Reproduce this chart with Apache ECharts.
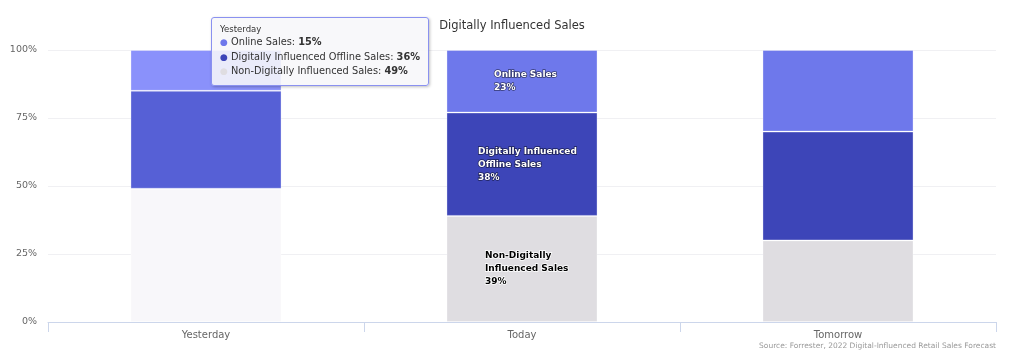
<!DOCTYPE html>
<html>
<head>
<meta charset="utf-8">
<script src="https://cdn.jsdelivr.net/npm/echarts@6/dist/echarts.min.js"></script>
<style>
html,body{margin:0;padding:0;background:#fff;}
#chart{width:1024px;height:360px;}
</style>
</head>
<body>
<div id="chart"></div>
<script>
var categories = ['Yesterday', 'Today', 'Tomorrow'];
var seriesNames = ['Online Sales', 'Digitally Influenced Offline Sales', 'Non-Digitally Influenced Sales'];
var onlineSales = [15, 23, 30];
var offlineSales = [36, 38, 40];
var nonDigitalSales = [49, 39, 30];
var yTicks = [0, 25, 50, 75, 100];

var FONT = '"DejaVu Sans", "Liberation Sans", sans-serif';
var baseColors = ['#6e78eb', '#3d45b8', '#dfdde1'];
var hoverColors = ['#8a91fb', '#5660d6', '#f8f7fa'];
var labelNames = ['Online Sales', 'Digitally Influenced\nOffline Sales', 'Non-Digitally\nInfluenced Sales'];
var labelOffsets = [[-28, 0], [-44, 0], [-37, 0]];
var allData = [onlineSales, offlineSales, nonDigitalSales];

function buildData(si) {
  return allData[si].map(function (v, i) {
    var item = { value: v };
    if (i === 0) item.itemStyle = { color: hoverColors[si] };
    if (i === 1) {
      item.label = {
        show: true,
        position: 'inside',
        align: 'left',
        verticalAlign: 'middle',
        offset: labelOffsets[si],
        formatter: labelNames[si] + '\n{c}%',
        fontFamily: FONT,
        fontSize: 9,
        fontWeight: 'bold',
        lineHeight: 13,
        color: si === 2 ? '#000' : '#fff',
        textBorderColor: si === 2 ? '#fff' : 'rgba(0,0,0,0.55)',
        textBorderWidth: 1.5
      };
    }
    return item;
  });
}

var series = seriesNames.map(function (name, si) {
  return {
    name: name,
    type: 'bar',
    stack: 'total',
    barWidth: '47.8%',
    data: buildData(si),
    itemStyle: {
      color: baseColors[si],
      borderColor: 'rgba(255,255,255,0.3)',
      borderWidth: 1
    },
    emphasis: { disabled: true },
    label: { show: false }
  };
});
// order: stack bottom first
series = [series[2], series[1], series[0]];

var chart = echarts.init(document.getElementById('chart'), null, { renderer: 'canvas' });
chart.setOption({
  animation: false,
  title: {
    text: 'Digitally Influenced Sales',
    left: 'center',
    top: 15,
    textStyle: { fontFamily: FONT, fontSize: 11.5, fontWeight: 'normal', color: '#333' }
  },
  grid: { left: 48, right: 28, top: 50, bottom: 38 },
  tooltip: {
    trigger: 'axis',
    axisPointer: { type: 'none' },
    alwaysShowContent: true,
    showDelay: 0,
    transitionDuration: 0,
    position: [211, 17],
    backgroundColor: 'rgba(247,247,249,0.88)',
    borderColor: '#8a91f0',
    borderWidth: 1,
    borderRadius: 3,
    padding: [5, 8, 6, 8],
    extraCssText: 'box-shadow:1px 1px 3px rgba(0,0,0,0.25);',
    formatter: function (params) {
      var idx = params[0].dataIndex;
      var dots = ['#6e78eb', '#3d45b8', '#dfdde1'];
      var f = FONT.replace(/"/g, "'");
      var html = '<div style="font-family:' + f + ';font-size:8.5px;color:#333;line-height:12px;">' + categories[idx] + '</div>';
      for (var s = 0; s < seriesNames.length; s++) {
        html += '<div style="font-family:' + f + ';font-size:9.8px;color:#333;line-height:13.5px;white-space:nowrap;">' +
          '<span style="color:' + dots[s] + ';font-size:9px;">\u25CF</span> ' + seriesNames[s] + ': <b>' + allData[s][idx] + '%</b></div>';
      }
      return html;
    }
  },
  xAxis: {
    type: 'category',
    data: categories,
    boundaryGap: true,
    axisLine: { lineStyle: { color: '#ccd6eb', width: 1 } },
    axisTick: { show: true, length: 10, lineStyle: { color: '#ccd6eb' } },
    axisLabel: { fontFamily: FONT, fontSize: 10, color: '#666', margin: 8 }
  },
  yAxis: {
    type: 'value',
    min: yTicks[0],
    max: yTicks[yTicks.length - 1],
    interval: yTicks[1] - yTicks[0],
    axisLine: { show: false },
    axisTick: { show: false },
    axisLabel: { fontFamily: FONT, fontSize: 9.5, color: '#666', formatter: '{value}%', margin: 11 },
    splitLine: { lineStyle: { color: '#f0f0f3', width: 1 } }
  },
  graphic: [{
    type: 'text',
    right: 28,
    top: 342,
    style: {
      text: 'Source: Forrester, 2022 Digital-Influenced Retail Sales Forecast',
      fontFamily: FONT,
      fontSize: 7.5,
      fill: '#999'
    }
  }],
  series: series
});
chart.dispatchAction({ type: 'showTip', seriesIndex: 0, dataIndex: 0 });
</script>
</body>
</html>
